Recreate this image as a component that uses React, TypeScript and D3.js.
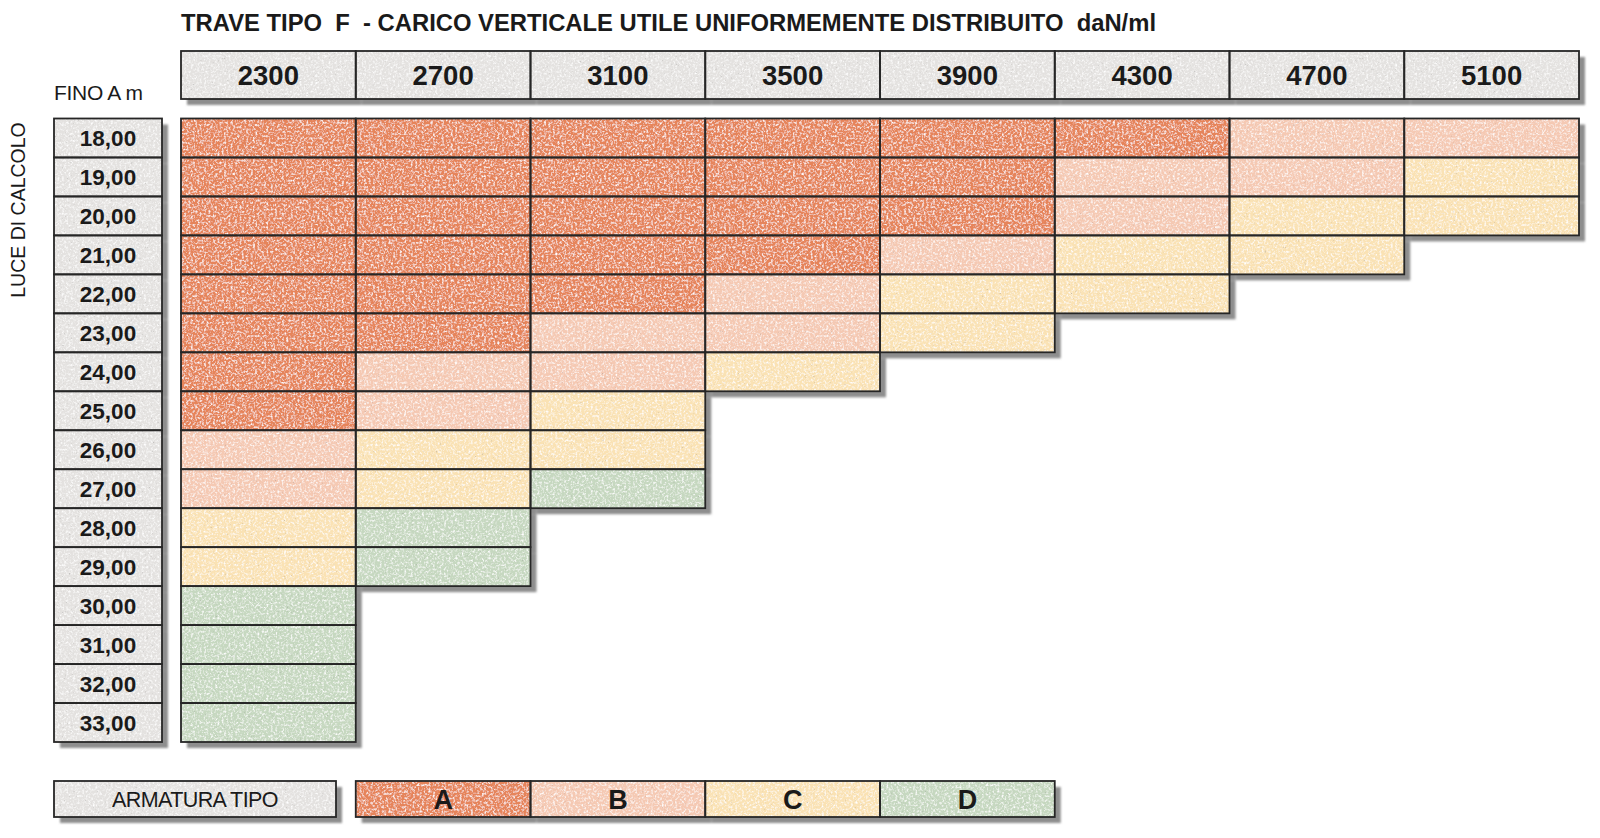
import React from "react";
import * as d3 from "d3";

// ---- data ----
const titleText = "TRAVE TIPO  F  - CARICO VERTICALE UTILE UNIFORMEMENTE DISTRIBUITO  daN/ml";
const loads = ["2300", "2700", "3100", "3500", "3900", "4300", "4700", "5100"];
const spans = ["18,00", "19,00", "20,00", "21,00", "22,00", "23,00", "24,00", "25,00", "26,00", "27,00", "28,00", "29,00", "30,00", "31,00", "32,00", "33,00"];
const armature: string[][] = [
  ["A", "A", "A", "A", "A", "A", "B", "B"],
  ["A", "A", "A", "A", "A", "B", "B", "C"],
  ["A", "A", "A", "A", "A", "B", "C", "C"],
  ["A", "A", "A", "A", "B", "C", "C"],
  ["A", "A", "A", "B", "C", "C"],
  ["A", "A", "B", "B", "C"],
  ["A", "B", "B", "C"],
  ["A", "B", "C"],
  ["B", "C", "C"],
  ["B", "C", "D"],
  ["C", "D"],
  ["C", "D"],
  ["D"],
  ["D"],
  ["D"],
  ["D"],
];
const types = ["A", "B", "C", "D"];
const typeColors = ["#E6845A", "#F5C9B3", "#FAE2B4", "#C6D8C0"];
const headerColor = "#E4E2E0";
const rowAxisLabel = "LUCE DI CALCOLO";
const cornerLabel = "FINO A m";
const legendLabel = "ARMATURA TIPO";

export default function App() {
  const W = 1600, H = 838;
  const x = d3.scaleBand<string>().domain(loads).range([181, 1579]).padding(0);
  const y = d3.scaleBand<string>().domain(spans).range([118.5, 742]).padding(0);
  const color = d3.scaleOrdinal<string, string>().domain(types).range(typeColors);
  const bw = x.bandwidth();
  const bh = y.bandwidth();

  const headerY = 51, headerH = 48;
  const labelX = 54, labelW = 108;
  const legendY = 781, legendH = 36;
  const legendLabelX0 = 54, legendLabelX1 = 336;
  const sh = 6;
  const stroke = "#262626";
  const sw = 1.8;

  const cells: { key: string; x: number; y: number; t: string }[] = [];
  armature.forEach((row, ri) => {
    row.forEach((t, ci) => {
      cells.push({ key: `${ri}-${ci}`, x: x(loads[ci])!, y: y(spans[ri])!, t });
    });
  });

  const headerRects = loads.map((l) => ({ key: l, x: x(l)!, y: headerY, w: bw, h: headerH }));
  const labelRects = spans.map((s) => ({ key: s, x: labelX, y: y(s)!, w: labelW, h: bh }));
  const legendRects = types.map((t, i) => ({ key: t, x: x(loads[i + 1])!, y: legendY, w: bw, h: legendH }));

  const allGreyRects = [
    ...headerRects,
    ...labelRects,
    { key: "legendLabel", x: legendLabelX0, y: legendY, w: legendLabelX1 - legendLabelX0, h: legendH },
  ];

  const shadowRects = [
    ...allGreyRects,
    ...cells.map((c) => ({ key: c.key, x: c.x, y: c.y, w: bw, h: bh })),
    ...legendRects,
  ];

  const font = "'Liberation Sans', Arial, Helvetica, sans-serif";

  return (
    <svg
      width={W}
      height={H}
      viewBox={`0 0 ${W} ${H}`}
      style={{ position: "absolute", left: 0, top: 0, display: "block", background: "#ffffff" }}
    >
      <defs>
        <filter id="grain" filterUnits="userSpaceOnUse" x="0" y="0" width={W} height={H}>
          <feTurbulence type="fractalNoise" baseFrequency="0.45" numOctaves="3" seed="4" result="noise" />
          <feColorMatrix
            in="noise"
            type="matrix"
            values="0 0 0 0 1  0 0 0 0 1  0 0 0 0 1  2.4 0 0 0 -1.1"
            result="light"
          />
          <feComposite in="light" in2="SourceGraphic" operator="in" result="lightIn" />
          <feColorMatrix
            in="noise"
            type="matrix"
            values="0 0 0 0 0.25  0 0 0 0 0.25  0 0 0 0 0.25  0 -2.0 0 0 0.62"
            result="dark"
          />
          <feComposite in="dark" in2="SourceGraphic" operator="in" result="darkIn" />
          <feMerge>
            <feMergeNode in="SourceGraphic" />
            <feMergeNode in="lightIn" />
            <feMergeNode in="darkIn" />
          </feMerge>
        </filter>
        <filter id="soft" x="-5%" y="-5%" width="110%" height="110%">
          <feGaussianBlur stdDeviation="0.8" />
        </filter>
      </defs>

      {/* title */}
      <text
        x={181}
        y={31}
        fontFamily={font}
        fontWeight="bold"
        fontSize={23}
        fill="#1a1a1a"
        textLength={975}
        lengthAdjust="spacingAndGlyphs"
        style={{ whiteSpace: "pre" }}
      >
        {titleText}
      </text>

      {/* shadows */}
      <g filter="url(#soft)">
        {shadowRects.map((r) => (
          <rect key={"s" + r.key} x={r.x + sh} y={r.y + sh} width={r.w} height={r.h} fill="#8e8e8e" />
        ))}
      </g>

      {/* fills with grain */}
      <g filter="url(#grain)">
        {allGreyRects.map((r) => (
          <rect key={"g" + r.key} x={r.x} y={r.y} width={r.w} height={r.h} fill={headerColor} />
        ))}
        {cells.map((c) => (
          <rect key={"c" + c.key} x={c.x} y={c.y} width={bw} height={bh} fill={color(c.t)} />
        ))}
        {legendRects.map((r) => (
          <rect key={"l" + r.key} x={r.x} y={r.y} width={r.w} height={r.h} fill={color(r.key)} />
        ))}
      </g>

      {/* strokes */}
      <g fill="none" stroke={stroke} strokeWidth={sw}>
        {allGreyRects.map((r) => (
          <rect key={"gs" + r.key} x={r.x} y={r.y} width={r.w} height={r.h} />
        ))}
        {cells.map((c) => (
          <rect key={"cs" + c.key} x={c.x} y={c.y} width={bw} height={bh} />
        ))}
        {legendRects.map((r) => (
          <rect key={"ls" + r.key} x={r.x} y={r.y} width={r.w} height={r.h} />
        ))}
      </g>

      {/* header labels */}
      {loads.map((l) => (
        <text
          key={"ht" + l}
          x={x(l)! + bw / 2}
          y={headerY + headerH / 2 + 10}
          textAnchor="middle"
          fontFamily={font}
          fontWeight="bold"
          fontSize={27.5}
          fill="#1a1a1a"
        >
          {l}
        </text>
      ))}

      {/* row labels */}
      {spans.map((s) => (
        <text
          key={"rt" + s}
          x={labelX + labelW / 2}
          y={y(s)! + bh / 2 + 8}
          textAnchor="middle"
          fontFamily={font}
          fontWeight="bold"
          fontSize={22.5}
          fill="#1a1a1a"
        >
          {s}
        </text>
      ))}

      {/* corner label */}
      <text x={54} y={100} fontFamily={font} fontSize={21} fill="#1a1a1a" letterSpacing={-0.3}>
        {cornerLabel}
      </text>

      {/* rotated axis label */}
      <text
        transform={`translate(25, 210) rotate(-90)`}
        textAnchor="middle"
        fontFamily={font}
        fontSize={19.5}
        fill="#1a1a1a"
      >
        {rowAxisLabel}
      </text>

      {/* legend */}
      <text
        x={(legendLabelX0 + legendLabelX1) / 2}
        y={legendY + legendH / 2 + 7.5}
        textAnchor="middle"
        fontFamily={font}
        fontSize={21.5}
        fill="#1a1a1a"
        letterSpacing={-0.6}
      >
        {legendLabel}
      </text>
      {legendRects.map((r) => (
        <text
          key={"lt" + r.key}
          x={r.x + r.w / 2}
          y={r.y + r.h / 2 + 9.5}
          textAnchor="middle"
          fontFamily={font}
          fontWeight="bold"
          fontSize={27}
          fill="#1a1a1a"
        >
          {r.key}
        </text>
      ))}
    </svg>
  );
}
